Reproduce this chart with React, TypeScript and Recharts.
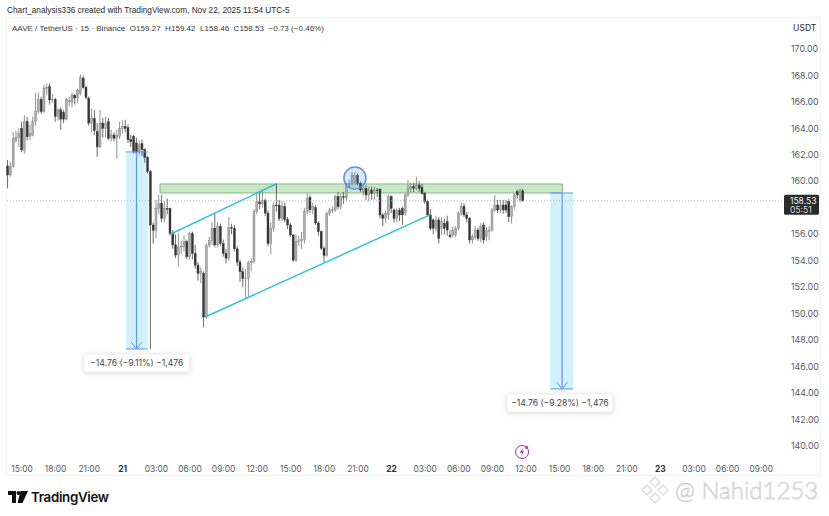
import { ComposedChart, Bar, XAxis, YAxis, ReferenceArea, ReferenceLine, ReferenceDot } from "recharts";

// candle index 0 is the 13:45 bar of Nov 20, one bar every 15 minutes
const opens = [
  161.16,160.48,161.1,163.1,163.3,164.0,162.3,164.5,163.4,163.5,164.5,165.27,166.2,165.27,167.03,167.15,166.15,166.2,164.9,165.4,
  165.2,164.7,166.0,165.95,166.5,166.3,166.65,167.8,167.1,166.27,164.4,164.75,163.75,162.6,164.4,164.0,164.5,163.25,163.5,163.25,
  163.4,164.0,164.15,164.05,163.15,163.4,162.9,162.25,162.85,162.4,161.8,160.75,156.7,156.3,157.95,158.33,157.2,157.95,157.95,156.07,
  155.2,154.43,155.05,155.05,155.45,154.3,156.05,154.55,153.67,153.05,153.05,149.75,155.18,155.55,156.45,155.2,156.6,155.3,154.55,154.2,
  156.5,156.45,154.9,153.9,153.17,152.66,152.65,153.85,153.95,157.7,158.45,158.3,158.55,157.6,155.3,156.45,158.2,158.2,157.2,158.1,
  157.1,156.7,155.95,154.05,155.45,155.5,155.6,157.7,158.8,157.85,158.0,156.85,156.2,154.95,154.4,157.58,157.83,157.83,158.84,158.09,
  158.84,158.75,159.72,159.85,159.9,160.45,159.85,159.22,159.47,158.97,159.35,159.09,159.35,159.4,157.46,157.2,157.46,158.84,157.83,157.2,
  157.83,157.96,157.58,158.97,159.47,159.6,159.47,159.72,159.55,159.09,158.46,157.46,157.08,156.45,157.08,156.45,156.83,156.95,155.94,155.94,
  155.94,156.45,157.58,158.09,157.46,157.2,155.57,155.75,156.32,155.69,156.7,155.82,156.2,156.32,157.83,158.21,157.83,158.21,158.21,158.46,
  157.33,158.09,159.22,158.59,159.27,
];
const highs = [
  161.61,161.49,163.75,163.83,164.0,164.5,165.0,164.85,164.3,164.9,166.7,166.7,166.4,167.3,167.4,167.4,166.6,166.3,165.5,165.6,
  165.4,166.3,166.4,166.7,166.6,167.0,168.09,168.0,167.2,166.4,165.5,165.4,164.4,165.4,164.8,164.9,164.8,163.9,163.7,163.9,
  164.5,164.6,164.65,164.3,163.5,163.5,163.3,163.1,163.15,162.5,161.9,160.85,156.9,158.6,159.0,158.95,158.5,158.7,158.0,156.3,
  156.0,156.1,155.5,155.9,155.6,156.2,156.2,155.2,153.9,153.5,153.2,155.3,155.8,156.9,157.6,156.9,156.8,155.6,154.9,157.3,
  156.8,156.7,155.1,154.1,153.5,153.4,154.0,154.2,157.9,159.2,159.2,159.35,158.7,157.8,156.9,158.4,159.85,158.6,158.5,158.4,
  157.3,156.85,156.0,156.0,155.9,156.2,158.0,159.1,159.0,158.4,158.2,157.0,156.3,155.1,157.7,158.0,158.1,159.0,159.2,159.1,
  159.2,159.9,160.1,160.73,160.7,160.6,160.0,159.7,159.7,159.6,159.6,159.6,159.5,159.5,157.6,157.8,159.0,158.95,157.95,157.95,
  158.0,158.1,159.1,160.1,159.9,159.9,160.35,160.0,159.8,159.2,158.6,157.9,157.2,157.4,157.3,157.3,157.2,157.4,156.3,156.6,
  156.6,157.75,158.4,158.35,157.7,157.3,156.0,156.6,156.5,156.85,156.9,156.55,156.6,158.0,158.97,158.6,158.6,158.6,158.6,158.65,
  158.2,159.1,159.35,159.45,159.42,
];
const lows = [
  159.47,160.35,161.05,162.9,162.6,162.2,162.1,163.1,163.1,163.4,164.2,165.1,165.1,165.2,166.5,165.8,165.9,164.5,164.6,163.9,
  164.4,164.6,165.7,165.6,165.8,165.9,166.5,167.0,166.2,164.2,163.7,163.5,161.85,162.5,163.3,163.3,163.1,163.0,163.0,161.7,
  163.2,163.6,163.7,162.9,162.6,162.1,162.0,162.0,161.9,161.4,160.6,147.33,155.3,155.7,157.5,156.9,156.9,157.5,155.9,154.9,
  154.2,153.6,154.5,154.7,154.1,154.1,154.1,153.4,152.5,152.3,148.96,149.6,155.0,155.2,155.0,155.0,155.1,154.3,153.8,154.0,
  156.0,154.7,153.6,152.4,152.0,151.2,151.3,153.2,153.8,157.5,157.9,158.0,157.4,155.1,154.5,156.2,157.7,157.0,157.0,156.9,
  156.4,155.8,153.9,153.9,155.1,154.9,155.3,157.5,157.6,157.5,156.7,155.9,154.8,153.9,154.3,157.4,157.6,157.7,157.9,157.9,
  158.3,158.5,159.5,159.7,159.75,159.7,159.2,158.9,158.6,158.5,158.6,158.6,158.8,157.2,156.6,156.85,157.1,157.6,156.9,156.9,
  157.0,156.7,157.4,158.8,159.2,159.2,159.3,159.2,159.0,158.3,157.4,156.3,156.0,156.2,155.31,155.9,156.0,155.9,155.7,155.75,
  155.8,156.3,157.4,157.3,156.9,155.3,155.3,155.6,155.5,155.4,155.3,155.5,155.55,156.2,157.7,157.6,157.6,157.55,157.6,156.9,
  156.8,157.9,158.7,158.4,158.46,
];
const closes = [
  160.48,161.16,163.25,163.3,163.6,162.37,164.5,163.37,163.6,164.5,165.27,166.2,165.27,167.03,167.1,166.15,166.2,164.9,165.4,164.7,
  164.7,166.2,166.1,166.5,166.3,166.9,167.86,167.1,166.35,164.4,164.75,163.83,162.6,164.4,164.0,164.4,163.25,163.5,163.25,163.5,
  164.0,164.15,164.0,163.15,163.0,162.25,162.2,162.75,162.4,161.8,160.75,156.7,156.3,157.95,158.3,157.2,157.95,157.9,156.07,155.2,
  154.43,155.05,155.1,155.45,154.3,156.05,154.55,153.67,153.05,153.2,149.75,155.18,155.55,156.45,155.2,156.6,155.3,154.55,154.2,156.5,
  156.45,154.9,153.9,153.17,152.66,152.7,153.85,153.95,157.7,158.45,158.3,158.55,157.6,155.3,156.45,158.2,158.15,157.2,158.1,157.1,
  156.7,155.95,154.05,155.45,155.5,155.6,157.7,158.7,157.85,158.1,156.85,156.2,154.95,154.4,157.58,157.83,157.85,158.84,158.09,158.84,
  158.8,159.72,159.85,160.48,160.45,159.85,159.35,159.47,158.97,159.35,159.09,159.35,159.3,157.46,157.2,157.58,158.84,157.96,157.2,157.83,
  157.46,157.46,158.97,159.47,159.6,159.47,159.72,159.47,159.09,158.46,157.46,156.45,156.45,157.03,155.69,156.95,156.45,156.32,155.82,156.32,
  156.45,157.58,158.09,157.46,157.2,155.57,155.82,156.32,155.69,156.57,155.57,156.32,156.32,157.83,158.21,157.83,158.21,157.83,157.83,157.33,
  158.09,158.97,158.97,159.35,158.53,
];

const timeLabels = [
  "15:00","18:00","21:00","21","03:00","06:00","09:00","12:00","15:00","18:00","21:00","22",
  "03:00","06:00","09:00","12:00","15:00","18:00","21:00","23","03:00","06:00","09:00",
];
const timeTicks = [5,17,29,41,53,65,77,89,101,113,125,137,149,161,173,185,197,209,221,233,245,257,269];
// 158.00 sits under the last price tag in the reference, so it is left out
const priceTicks = [140,142,144,146,148,150,152,154,156,160,162,164,166,168,170];

const lastPrice = 158.53;
const countdown = "05:51";
const rulerText = "\u221214.76 (\u22129.11%) \u22121,476";
const rulerText2 = "\u221214.76 (\u22129.28%) \u22121,476";

const candles = opens.map((open, i) => ({
  t: i,
  open,
  high: highs[i],
  low: lows[i],
  close: closes[i],
}));

const FONT = "Inter, 'Liberation Sans', sans-serif";
const HEAD_FONT = "'Liberation Sans', Arial, sans-serif";

function Candle(props: any) {
  const { x, y, width, height, payload } = props;
  const top = Math.min(y, y + height);
  const h = Math.abs(height);
  const perUnit = h / (payload.high - payload.low || 1);
  const yOpen = top + (payload.high - payload.open) * perUnit;
  const yClose = top + (payload.high - payload.close) * perUnit;
  const up = payload.close >= payload.open;
  const cx = x + width / 2;
  return (
    <g>
      <line x1={cx} x2={cx} y1={top} y2={top + h} stroke={up ? "#757575" : "#444444"} strokeWidth={0.8} />
      <rect
        x={x}
        y={Math.min(yOpen, yClose)}
        width={width}
        height={Math.max(Math.abs(yClose - yOpen), 0.8)}
        fill={up ? "#adadad" : "#363636"}
        stroke={up ? "#7f7f7f" : "#363636"}
        strokeWidth={0.4}
      />
    </g>
  );
}

function TimeTick(props: any) {
  const { x, y, index } = props;
  const label = timeLabels[index];
  const isDay = label.length === 2;
  return (
    <text x={x} y={y + 7} textAnchor="middle" fontFamily={FONT} fontSize={8.4} fontWeight={isDay ? 700 : 400} fill={isDay ? "#2a2e39" : "#555963"}>
      {label}
    </text>
  );
}

function RulerTag({ cx, cy, text }: any) {
  return (
    <g>
      <rect x={cx - 53} y={cy - 9} width={106} height={18} rx={3} fill="#fff" stroke="#efefef" strokeWidth={0.8} style={{ filter: "drop-shadow(0 1px 2px rgba(0,0,0,0.16))" }} />
      <text x={cx} y={cy + 3} textAnchor="middle" fontFamily={FONT} fontSize={8.6} fill="#444">
        {text}
      </text>
    </g>
  );
}

function PriceTag({ cy }: any) {
  return (
    <g>
      <rect x={784} y={cy - 6} width={35} height={20} rx={1.5} fill="#2b2b2b" />
      <text x={790} y={cy + 3} fontFamily={FONT} fontSize={8.5} fill="#f2f2f2">{lastPrice}</text>
      <text x={790} y={cy + 12} fontFamily={FONT} fontSize={8.5} fill="#d8d8d8">{countdown}</text>
    </g>
  );
}

function BoltIcon({ cx, cy }: any) {
  return (
    <g>
      <circle cx={cx} cy={cy} r={6.5} fill="#fff" stroke="#8e3a9d" strokeWidth={1} />
      <path d={`M${cx + 1} ${cy - 4} L${cx - 2.2} ${cy + 0.8} L${cx} ${cy + 0.8} L${cx - 1} ${cy + 4} L${cx + 2.2} ${cy - 0.8} L${cx} ${cy - 0.8} Z`} fill="#8e3a9d" />
      <circle cx={cx + 4.5} cy={cy - 4.5} r={1.6} fill="#e0389a" />
    </g>
  );
}

const blueLine = "#5f97ee";
const rulerFill = "#d3f1fb";
const cyanLine = "#2ec4d6";

export default function App() {
  return (
    <div style={{ position: "absolute", left: 0, top: 0, width: 829, height: 516, background: "#fff", overflow: "hidden" }}>
      <div style={{ position: "absolute", left: 6, top: 17, width: 815, height: 459, border: "1px solid #f3f3f3", boxSizing: "border-box" }} />
      <ComposedChart
        width={829}
        height={516}
        data={candles}
        margin={{ top: 18, right: 0, bottom: 38, left: 6 }}
        barSize={2}
      >
        <XAxis
          dataKey="t"
          type="number"
          scale="linear"
          domain={[-0.71, 277.5]}
          allowDataOverflow
          ticks={timeTicks}
          interval={0}
          tick={<TimeTick />}
          tickLine={false}
          axisLine={false}
          height={21}
        />
        <YAxis
          orientation="right"
          type="number"
          domain={[139.17, 172.34]}
          allowDataOverflow
          ticks={priceTicks}
          interval={0}
          tickFormatter={(v: number) => v.toFixed(2)}
          tick={{ fontFamily: FONT, fontSize: 8.8, fill: "#555963" }}
          tickLine={false}
          tickMargin={0}
          axisLine={false}
          width={44}
        />

        <ReferenceArea x1={42.1} x2={50} y1={147.33} y2={162.22} fill={rulerFill} fillOpacity={1} stroke="none" />
        <ReferenceArea x1={193.6} x2={201.8} y1={144.31} y2={159.12} fill={rulerFill} fillOpacity={1} stroke="none" />
        <ReferenceLine y={lastPrice} stroke="#a8a8a8" strokeDasharray="1 2" strokeWidth={0.8} />

        <Bar dataKey={(d: any) => [d.low, d.high]} shape={<Candle />} isAnimationActive={false} />

        <ReferenceArea x1={54.3} x2={198} y1={159.12} y2={159.8} fill="#9fd49a" fillOpacity={0.55} stroke="#7fbf80" strokeWidth={1} />

        <ReferenceLine segment={[{ x: 42.1, y: 162.22 }, { x: 50, y: 162.22 }]} stroke={blueLine} strokeWidth={1} />
        <ReferenceLine segment={[{ x: 45.9, y: 162.22 }, { x: 45.9, y: 147.33 }]} stroke={blueLine} strokeWidth={1.2} />
        <ReferenceLine segment={[{ x: 44, y: 147.85 }, { x: 45.9, y: 147.33 }]} stroke={blueLine} strokeWidth={1} />
        <ReferenceLine segment={[{ x: 47.8, y: 147.85 }, { x: 45.9, y: 147.33 }]} stroke={blueLine} strokeWidth={1} />
        <ReferenceLine segment={[{ x: 42.1, y: 147.33 }, { x: 50, y: 147.33 }]} stroke={blueLine} strokeWidth={1} />

        <ReferenceLine segment={[{ x: 193.6, y: 159.12 }, { x: 201.8, y: 159.12 }]} stroke={blueLine} strokeWidth={1} />
        <ReferenceLine segment={[{ x: 197.9, y: 159.12 }, { x: 197.9, y: 144.31 }]} stroke={blueLine} strokeWidth={1.2} />
        <ReferenceLine segment={[{ x: 196, y: 144.83 }, { x: 197.9, y: 144.31 }]} stroke={blueLine} strokeWidth={1} />
        <ReferenceLine segment={[{ x: 199.8, y: 144.83 }, { x: 197.9, y: 144.31 }]} stroke={blueLine} strokeWidth={1} />
        <ReferenceLine segment={[{ x: 193.6, y: 144.31 }, { x: 201.8, y: 144.31 }]} stroke={blueLine} strokeWidth={1} />

        <ReferenceLine segment={[{ x: 58.2, y: 156.02 }, { x: 95.7, y: 159.8 }]} stroke={cyanLine} strokeWidth={1.5} />
        <ReferenceLine segment={[{ x: 70.4, y: 149.75 }, { x: 150.7, y: 157.46 }]} stroke={cyanLine} strokeWidth={1.5} />

        <ReferenceDot x={123.9} y={160.25} r={11} fill="#4f8fe8" fillOpacity={0.2} stroke="#5c8fe6" strokeWidth={1.5} />

        <ReferenceDot x={46} y={146.27} r={1} shape={(p: any) => <RulerTag cx={p.cx} cy={p.cy} text={rulerText} />} />
        <ReferenceDot x={197.1} y={143.25} r={1} shape={(p: any) => <RulerTag cx={p.cx} cy={p.cy} text={rulerText2} />} />
        <ReferenceDot x={183.6} y={139.55} r={1} shape={(p: any) => <BoltIcon cx={p.cx} cy={p.cy} />} />
        <ReferenceDot x={276} y={lastPrice} r={1} ifOverflow="visible" shape={(p: any) => <PriceTag cy={p.cy} />} />
      </ComposedChart>

      <div style={{ position: "absolute", left: 7, top: 6, fontFamily: HEAD_FONT, fontSize: 8.25, color: "#2a2a2a", whiteSpace: "nowrap" }}>
        Chart_analysis336 created with TradingView.com, Nov 22, 2025 11:54 UTC-5
      </div>
      <div style={{ position: "absolute", left: 12, top: 24, fontFamily: HEAD_FONT, fontSize: 8.05, color: "#3a3a3a", whiteSpace: "nowrap" }}>
        AAVE / TetherUS · 15 · Binance&nbsp;&nbsp;O159.27&nbsp;&nbsp;H159.42&nbsp;&nbsp;L158.46&nbsp;&nbsp;C158.53&nbsp;&nbsp;−0.73 (−0.46%)
      </div>
      <div style={{ position: "absolute", left: 793, top: 23, fontFamily: FONT, fontSize: 8.6, color: "#2a2a2a" }}>USDT</div>

      <svg style={{ position: "absolute", left: 8, top: 491 }} width={20} height={12} viewBox="0 0 20 12">
        <path d="M0 0H8V12H4V4H0Z M12.5 0H20L14.5 12H9.5Z" fill="#111" />
        <circle cx={10.5} cy={2} r={2} fill="#111" />
      </svg>
      <div style={{ position: "absolute", left: 31, top: 489, fontFamily: "Inter, sans-serif", fontSize: 13.3, fontWeight: 600, color: "#111", letterSpacing: -0.3 }}>
        TradingView
      </div>

      <svg style={{ position: "absolute", left: 640, top: 475 }} width={30} height={30} viewBox="0 0 30 30">
        <g fill="none" stroke="#dcdcdc" strokeWidth={1.4}>
          <path d="M15 2 L20 7 L15 12 L10 7 Z" />
          <path d="M7 10 L12 15 L7 20 L2 15 Z" />
          <path d="M23 10 L28 15 L23 20 L18 15 Z" />
          <path d="M15 18 L20 23 L15 28 L10 23 Z" />
        </g>
      </svg>
      <div style={{ position: "absolute", left: 675, top: 475, fontFamily: "Lato, sans-serif", fontSize: 24, fontWeight: 300, color: "#fff", WebkitTextStroke: "0.6px #c9c9c9", whiteSpace: "nowrap" }}>
        @ Nahid1253
      </div>
    </div>
  );
}
